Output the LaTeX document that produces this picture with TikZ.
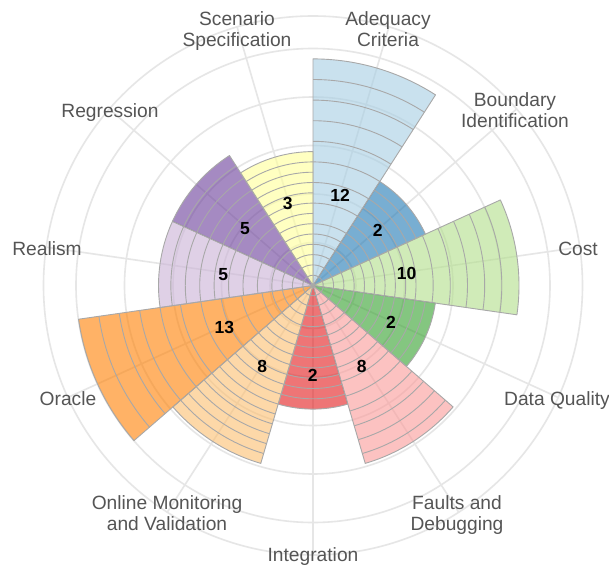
\documentclass[tikz,border=0pt]{standalone}
\usepackage{fontspec}
\setmainfont{Liberation Sans}
\definecolor{cAde}{HTML}{A6CEE3}
\definecolor{cBou}{HTML}{1F78B4}
\definecolor{cCos}{HTML}{B2DF8A}
\definecolor{cDat}{HTML}{33A02C}
\definecolor{cFau}{HTML}{FB9A99}
\definecolor{cInt}{HTML}{E31A1C}
\definecolor{cOnl}{HTML}{FDBF6F}
\definecolor{cOra}{HTML}{FF7F00}
\definecolor{cRea}{HTML}{CAB2D6}
\definecolor{cReg}{HTML}{6A3D9A}
\definecolor{cSce}{HTML}{FFFF99}
\definecolor{gridc}{HTML}{E6E6E6}
\definecolor{ringc}{HTML}{A8A8A8}
\definecolor{labc}{HTML}{555555}
\def\uu{10.3}
\begin{document}
\begin{tikzpicture}[x=1pt,y=1pt,
  gridline/.style={draw=gridc, line width=1.6pt},
  ringline/.style={draw=ringc, line width=0.9pt},
  lab/.style={text=labc, inner sep=0pt, anchor=base, font=\fontsize{19.2}{23}\selectfont},
  val/.style={text=black, inner sep=0pt, anchor=center, font=\bfseries\fontsize{17.5}{21}\selectfont}]
\useasboundingbox (-313,-279.5) rectangle (296,285.5);
\fill[white] (-313,-279.5) rectangle (296,285.5);
\coordinate (O) at (0,0);
% background grid
\foreach \rr in {43,91.5,140,188.5,237,269.5}
  \draw[gridline] (O) circle[radius=\rr];
\foreach \k in {0,...,10}{
  \pgfmathsetmacro{\ang}{73.6364-32.7273*\k}
  \draw[gridline] (O) -- (\ang:269.5);
}
% sectors
\foreach \i/\col/\tot/\rings in {
  0/cAde/22/{1,2,3,4,5,6,8,10,12,14,16,18,20},
  1/cBou/12/{1,2,3,4,5,6,7,8,9,10,11},
  2/cCos/20/{1,2,3,4,5,6,7,8,9,10,11.67,13.33,15,16.67,18.33},
  3/cDat/12/{1,2,3,4,5,6,7,8,9,10,11},
  4/cFau/18/{1,2,3,4,5,6,7,8.3,9.7,11.2,12.7,14.2,15.6,17},
  5/cInt/12/{1,2,3,4,5,6,7,8,9,10,11},
  6/cOnl/18/{1,2,3,4,5,6,7,8,9,10,11,12,13,14,15,16,17},
  7/cOra/23/{1,2,3,4,5,7,9,11,13,15,17,19,21},
  8/cRea/15/{1,2,3,4,5.4,6.8,8.2,9.6,11,12.4,13.8},
  9/cReg/15/{1,2,3,4,5.4,6.8,8.2,9.6,11,12.4,13.8},
  10/cSce/13/{1,2,3,4,5,6,7,8,9,10,11,12}}{
  \pgfmathsetmacro{\aS}{90-32.7273*\i}
  \pgfmathsetmacro{\aE}{\aS-32.7273}
  \pgfmathsetmacro{\RR}{\tot*\uu}
  \fill[\col, fill opacity=0.6] (O) -- (\aS:\RR) arc[start angle=\aS, end angle=\aE, radius=\RR] -- cycle;
  \foreach \r in \rings {
    \pgfmathsetmacro{\rr}{\r*\uu}
    \draw[ringline] (\aS:\rr) arc[start angle=\aS, end angle=\aE, radius=\rr];
  }
  \draw[ringline, line join=round] (O) -- (\aS:\RR) arc[start angle=\aS, end angle=\aE, radius=\RR] -- cycle;
}
% value labels
\node[val] (v0) at (27,90.5) {12};
\node[val] (v1) at (64.7,55.5) {2};
\node[val] (v2) at (93.7,12.2) {10};
\node[val] (v3) at (78,-37.2) {2};
\node[val] (v4) at (48.7,-80.5) {8};
\node[val] (v5) at (-0.3,-89.5) {2};
\node[val] (v6) at (-50.7,-80.5) {8};
\node[val] (v7) at (-88.7,-42.2) {13};
\node[val] (v8) at (-89.7,10.5) {5};
\node[val] (v9) at (-68,57.2) {5};
\node[val] (v10) at (-25.3,82.2) {3};
% category labels
\node[lab] (lSce1) at (-76,259.5) {Scenario};
\node[lab] (lSce2) at (-76,238.5) {Specification};
\node[lab] (lAde1) at (75,259.5) {Adequacy};
\node[lab] (lAde2) at (75,238.5) {Criteria};
\node[lab] (lBou1) at (202,178.5) {Boundary};
\node[lab] (lBou2) at (202,157.5) {Identification};
\node[lab] (lCos) at (265,30.5) {Cost};
\node[lab] (lDat) at (244,-119.5) {Data Quality};
\node[lab] (lFau1) at (144,-223.5) {Faults and};
\node[lab] (lFau2) at (144,-244.5) {Debugging};
\node[lab] (lInt) at (0,-275.5) {Integration};
\node[lab] (lOnl1) at (-146,-223.5) {Online Monitoring};
\node[lab] (lOnl2) at (-146,-244.5) {and Validation};
\node[lab] (lOra) at (-245,-119.5) {Oracle};
\node[lab] (lRea) at (-266,30.5) {Realism};
\node[lab] (lReg) at (-203,167.5) {Regression};
\end{tikzpicture}
\end{document}
